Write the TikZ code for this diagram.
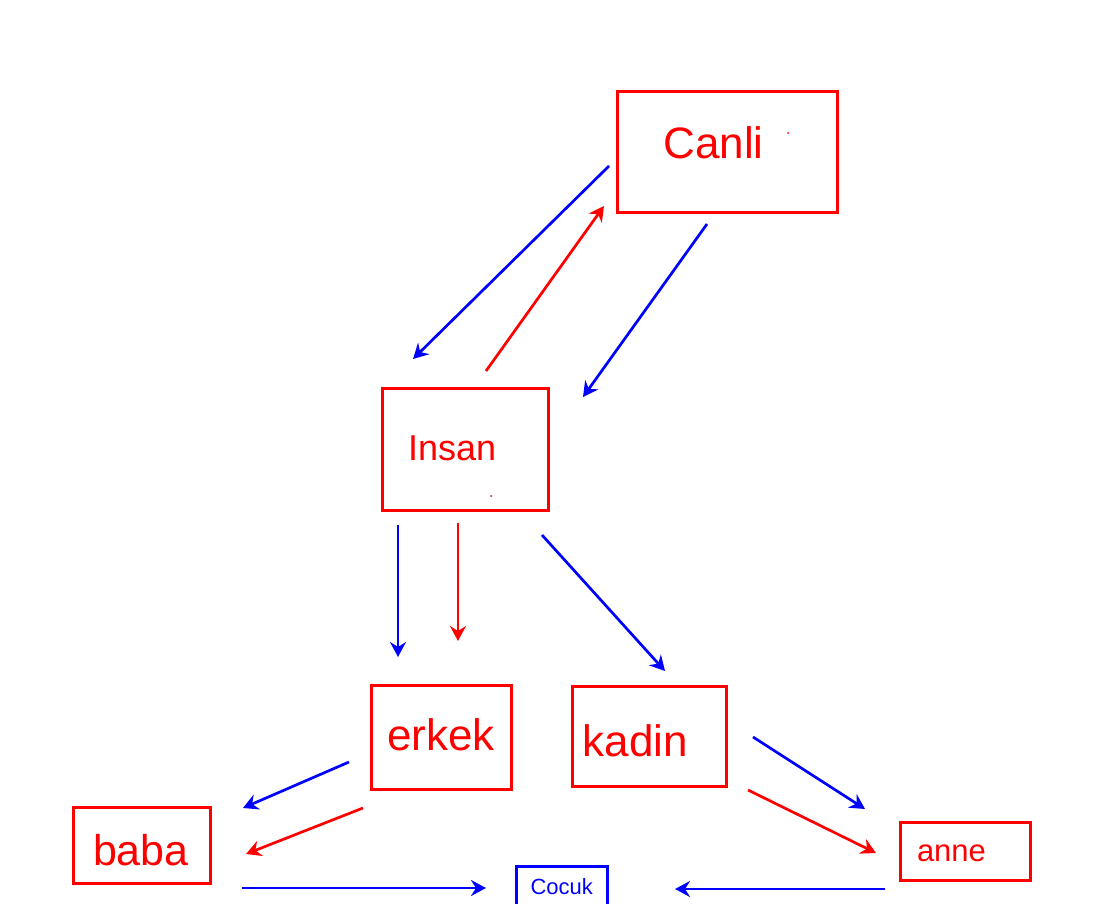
\documentclass[tikz,border=0pt]{standalone}
\usepackage{fontspec}
\setmainfont{Liberation Sans}
\usetikzlibrary{arrows.meta}
\definecolor{pred}{RGB}{255,0,0}
\definecolor{pblue}{RGB}{0,0,255}
\tikzset{
  box/.style={draw=#1, line width=3pt, rectangle, inner sep=0pt, outer sep=0pt},
  lbl/.style={anchor=base west, inner sep=0pt, outer sep=0pt, text=#1},
  arr/.style={draw=#1, line width=2.7pt, -{Stealth[length=15pt,width=16pt,inset=5pt]}},
}
\newcommand{\fsz}[1]{\fontsize{#1}{#1}\selectfont}
\begin{document}
\begin{tikzpicture}[x=1pt,y=-1pt]
\useasboundingbox (0,0) rectangle (1108,904);
\clip (0,0) rectangle (1108,904);
\fill[white] (0,0) rectangle (1108,904);

% boxes
\node[box=pred, minimum width=220pt, minimum height=121pt] (canli) at (727.5,152) {};
\node[box=pred, minimum width=166pt, minimum height=122pt] (insan) at (465.5,449.5) {};
\node[box=pred, minimum width=140pt, minimum height=104pt] (erkek) at (441.6,737.3) {};
\node[box=pred, minimum width=154pt, minimum height=99.5pt] (kadin) at (649,736.3) {};
\node[box=pred, minimum width=130pt, minimum height=58pt] (anne) at (965.8,851.2) {};
\node[box=pred, minimum width=136.4pt, minimum height=76.3pt] (baba) at (142,845.6) {};
\node[box=pblue, minimum width=91pt, minimum height=48.5pt] (cocuk) at (562,890.75) {};

% labels
\node[lbl=pred] (canliT) at (663.5,159) {\fsz{44}Canli};
\node[lbl=pred] (insanT) at (408,460) {\fsz{36}Insan};
\node[lbl=pred] (erkekT) at (387,750.7) {\fsz{44}erkek};
\node[lbl=pred] (kadinT) at (582.7,756) {\fsz{44}kadin};
\node[lbl=pred] (babaT) at (93,865) {\fsz{43}baba};
\node[lbl=pred] (anneT) at (917,861.7) {\fsz{31}anne};
\node[lbl=pblue] (cocukT) at (530.6,894) {\fsz{22}Cocuk};

% stray dots
\fill[pred] (788,133) circle (1pt);
\fill[pred] (491,496) circle (1pt);

% connector end points
\coordinate (a1s) at (609,166);  \coordinate (a1e) at (413,359);
\coordinate (a2s) at (486,371);  \coordinate (a2e) at (604,206);
\coordinate (a3s) at (707,224);  \coordinate (a3e) at (583,397);
\coordinate (a4s) at (398,525);  \coordinate (a4e) at (398,657);
\coordinate (a5s) at (458,523);  \coordinate (a5e) at (458,641);
\coordinate (a6s) at (542,535);  \coordinate (a6e) at (665,671);
\coordinate (a7s) at (349,762);  \coordinate (a7e) at (243,808);
\coordinate (a8s) at (363,808);  \coordinate (a8e) at (246,854);
\coordinate (a9s) at (242,888);  \coordinate (a9e) at (486,888);
\coordinate (a10s) at (753,737); \coordinate (a10e) at (865,809);
\coordinate (a11s) at (748,790); \coordinate (a11e) at (876,853);
\coordinate (a12s) at (885,889); \coordinate (a12e) at (675,889);

% connectors
\draw[arr=pblue] (a1s) -- (a1e);
\draw[arr=pred]  (a2s) -- (a2e);
\draw[arr=pblue] (a3s) -- (a3e);
\draw[arr=pblue] (a4s) -- (a4e);
\draw[arr=pred]  (a5s) -- (a5e);
\draw[arr=pblue] (a6s) -- (a6e);
\draw[arr=pblue] (a7s) -- (a7e);
\draw[arr=pred]  (a8s) -- (a8e);
\draw[arr=pblue] (a9s) -- (a9e);
\draw[arr=pblue] (a10s) -- (a10e);
\draw[arr=pred]  (a11s) -- (a11e);
\draw[arr=pblue] (a12s) -- (a12e);
\end{tikzpicture}
\end{document}
